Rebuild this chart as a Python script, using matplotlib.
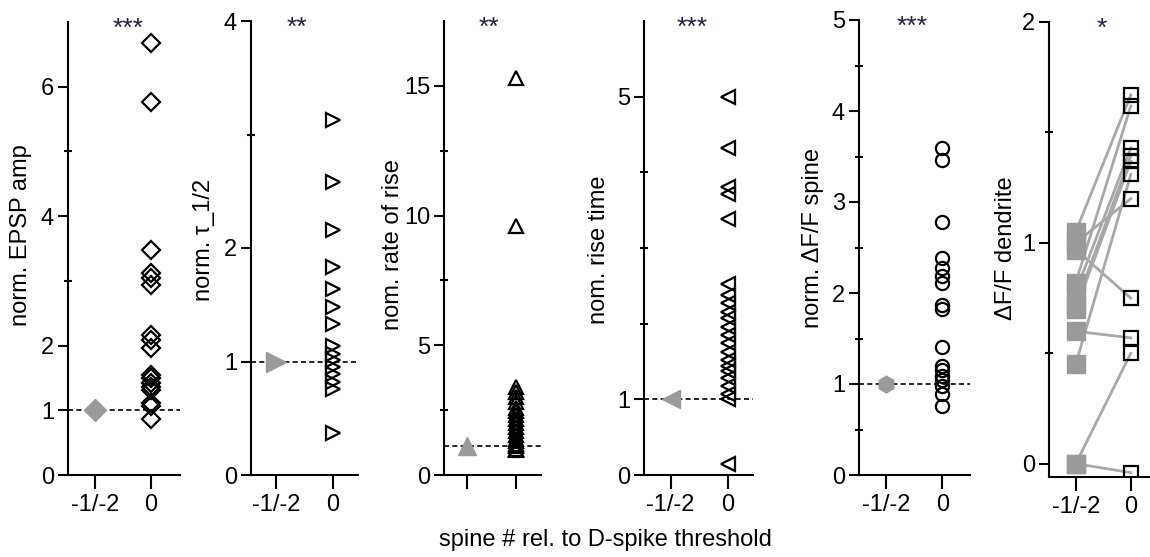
import matplotlib
matplotlib.use("Agg")
import matplotlib.pyplot as plt

plt.rcParams['font.family'] = ['Liberation Sans', 'DejaVu Sans']
plt.rcParams['font.size'] = 17

# ---------------- data ----------------
categories = ["-1/-2", "0"]

epsp_amp = [6.67, 5.76, 3.48, 3.12, 3.04, 2.93, 2.16, 2.08, 1.97, 1.55, 1.50,
            1.42, 1.36, 1.31, 1.11, 1.06, 0.86]
tau_half = [3.13, 2.58, 2.16, 1.83, 1.64, 1.48, 1.33, 1.14, 1.07, 1.01, 0.95,
            0.89, 0.82, 0.76, 0.37]
rate_of_rise = [15.3, 9.6, 3.4, 3.2, 3.0, 2.8, 2.6, 2.45, 2.3, 2.15, 2.0, 1.85,
                1.7, 1.55, 1.4, 1.3, 1.2, 1.1, 1.0, 0.95]
rise_time = [5.0, 4.32, 3.80, 3.72, 3.38, 2.53, 2.38, 2.27, 2.16, 2.07, 1.96,
             1.85, 1.74, 1.63, 1.52, 1.44, 1.37, 1.28, 1.17, 1.07, 1.0, 0.15]
dff_spine = [3.59, 3.46, 2.78, 2.39, 2.28, 2.19, 2.11, 1.87, 1.82, 1.41, 1.20,
             1.15, 1.09, 1.04, 0.98, 0.89, 0.76]
dend_pre = [1.05, 1.00, 0.97, 0.82, 0.78, 0.72, 0.70, 0.60, 0.45, 0.0, 0.0]
dend_post = [1.67, 1.20, 0.75, 1.62, 1.43, 1.395, 1.37, 0.57, 1.31, 0.50, -0.04]

baselines = [1.0, 1.0, 1.1, 1.0, 1.0]
ylabels = ["norm. EPSP amp", "norm. \u03c4_1/2", "nom. rate of rise",
           "nom. rise time", "norm. \u0394F/F spine", "\u0394F/F dendrite"]
stars = ["***", "**", "**", "***", "***", "*"]
star_x = [0.6, 0.36, 0.45, 0.37, 0.47, 0.48]

major_ticks = [[0, 1, 2, 4, 6], [0, 1, 2, 4], [0, 5, 10, 15], [0, 1, 5],
               [0, 1, 2, 3, 4, 5], [0, 1, 2]]
minor_ticks = [[3, 5], [3], [2.5, 7.5, 12.5], [2, 3, 4],
               [0.5, 1.5, 2.5, 3.5, 4.5], [0.5, 1.5]]
ylims = [(0, 7), (0, 4), (0, 17.5), (0, 6), (0, 5), (-0.06, 2)]

# ---------------- layout (pixel boxes) ----------------
W, H = 1150, 557
boxes = [(68, 180, 22, 475), (251, 358, 21, 475), (444, 541, 21, 475),
         (644, 753, 21, 475), (859, 970, 20, 475), (1049, 1149, 22, 477)]
xlims = [(-0.48, 1.52), (-0.45, 1.44), (-0.47, 1.51), (-0.466, 1.44),
         (-0.48, 1.49), (-0.485, 1.33)]
ylabel_px = [21, 204, 393, 599, 813, 1006]
ylabel_py = [235, 240, 245, 250, 238, 248]

fig = plt.figure(figsize=(W / 100, H / 100), dpi=100)
GRAY = '#9a9a9a'

markers_open = ['D', '>', '^', '<', 'o', 's']
markers_gray = ['D', '>', '^', '<', 'h', 's']
ms_open = [9.5, 10.5, 10.5, 10.5, 9.5, 9.5]
ms_gray = [11, 14, 12.5, 13, 12, 13]
series = [epsp_amp, tau_half, rate_of_rise, rise_time, dff_spine]

for i, (l, r, t, b) in enumerate(boxes):
    ax = fig.add_axes([l / W, 1 - b / H, (r - l) / W, (b - t) / H])
    ax.set_xlim(*xlims[i])
    ax.set_ylim(*ylims[i])
    for s in ['top', 'right']:
        ax.spines[s].set_visible(False)
    for s in ['left', 'bottom']:
        ax.spines[s].set_linewidth(1.5)
    ax.set_yticks(major_ticks[i])
    ax.set_yticks(minor_ticks[i], minor=True)
    ax.set_xticks([0, 1])
    if i == 2:
        ax.set_xticklabels(['', ''])
    else:
        ax.set_xticklabels(categories)
    ax.tick_params(axis='y', which='major', direction='out', length=7, width=1.5, pad=3)
    ax.tick_params(axis='y', which='minor', direction='inout', length=6, width=1.5)
    ax.tick_params(axis='x', which='major', direction='out', length=10, width=1.5, pad=4)
    ax.set_ylabel(ylabels[i])
    ax.yaxis.label.set_verticalalignment('center')
    ax.yaxis.set_label_coords((ylabel_px[i] - l) / (r - l),
                              (b - ylabel_py[i]) / (b - t))
    ax.text(star_x[i], ylims[i][1] - (ylims[i][1] - ylims[i][0]) * 0.015, stars[i],
            ha='center', va='center', fontsize=19, color='#222244',
            transform=ax.transData)

    if i < 5:
        vals = series[i]
        ax.axhline(baselines[i], color='black', lw=1.2, ls=(0, (3, 2)), zorder=1)
        ax.plot([0], [baselines[i]], marker=markers_gray[i], ms=ms_gray[i],
                color=GRAY, mec=GRAY, ls='none', zorder=3)
        ax.plot([1] * len(vals), vals, marker=markers_open[i], ms=ms_open[i],
                mfc='none', mec='black', mew=1.6, ls='none', zorder=3)
    else:
        for a, bb in zip(dend_pre, dend_post):
            ax.plot([0, 1], [a, bb], color='#a8a8a8', lw=2, zorder=2)
        ax.plot([0] * len(dend_pre), dend_pre, marker='s', ms=ms_gray[i],
                color=GRAY, mec=GRAY, ls='none', zorder=3)
        ax.plot([1] * len(dend_post), dend_post, marker='s', ms=ms_open[i],
                mfc='none', mec='black', mew=1.6, ls='none', zorder=4)

fig.text(605 / W, 1 - 540 / H, "spine # rel. to D-spike threshold",
         ha='center', va='center', fontsize=17)

fig.savefig("out.png", dpi=100)
